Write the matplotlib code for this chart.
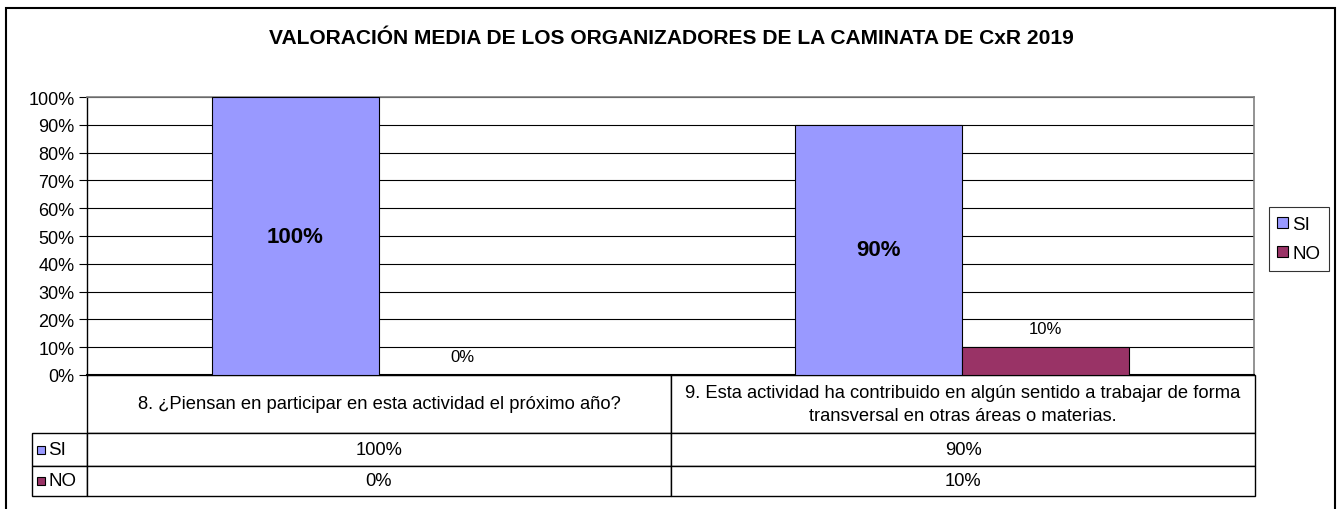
import numpy as np
import matplotlib
matplotlib.use("Agg")
import matplotlib.pyplot as plt
from matplotlib.patches import Rectangle

plt.rcParams['font.family'] = ['Liberation Sans', 'DejaVu Sans']

title = "VALORACIÓN MEDIA DE LOS ORGANIZADORES DE LA CAMINATA DE CxR 2019"
categories = [
    "8. ¿Piensan en participar en esta actividad el próximo año?",
    "9. Esta actividad ha contribuido en algún sentido a trabajar de forma\ntransversal en otras áreas o materias.",
]
series = ["SI", "NO"]
si_values = [100, 90]
no_values = [0, 10]
colors = {"SI": "#9999FF", "NO": "#993366"}

W, H = 1338, 510
fig = plt.figure(figsize=(W / 100, H / 100), dpi=100)

# outer chart frame (bottom edge falls outside the image)
fig.add_artist(Rectangle((6 / W, -0.05), (1335 - 6) / W, 1.05 - 9 / H,
                         transform=fig.transFigure, fill=False,
                         edgecolor="black", linewidth=1.5))

# plot area in pixels: x 87..1254, y 98..376
ax = fig.add_axes([87 / W, 1 - 376 / H, (1254 - 87) / W, (376 - 98) / H])

x = np.arange(len(categories))
bw = 0.286
bars_si = ax.bar(x - bw / 2, si_values, bw, color=colors["SI"], edgecolor="black",
                 linewidth=0.8, label="SI", zorder=3)
bars_no = ax.bar(x + bw / 2, no_values, bw, color=colors["NO"], edgecolor="black",
                 linewidth=0.8, label="NO", zorder=3)

for b, v in zip(bars_si, si_values):
    ax.text(b.get_x() + b.get_width() / 2, v / 2, f"{v}%", ha="center", va="center",
            fontsize=16, fontweight="bold", zorder=4)
for b, v in zip(bars_no, no_values):
    ax.text(b.get_x() + b.get_width() / 2, v + 4, f"{v}%", ha="center", va="bottom",
            fontsize=12, zorder=4)

ax.set_xlim(-0.5, len(categories) - 0.5)
ax.set_ylim(0, 100)
ax.set_yticks(np.arange(0, 101, 10))
ax.set_yticklabels([f"{t}%" for t in range(0, 101, 10)], fontsize=13)
ax.set_xticks([])
ax.tick_params(axis="y", length=6, width=0.8, pad=3)
ax.yaxis.grid(True, color="black", linewidth=0.8, zorder=0)
ax.set_axisbelow(True)
for s in ["top", "right"]:
    ax.spines[s].set_color("#808080")
    ax.spines[s].set_linewidth(1.2)
ax.spines["left"].set_linewidth(1.0)
ax.spines["bottom"].set_linewidth(1.5)

# data table below the plot area
col_w = [55, 584, 584]
cell_text = [[s] + [f"{v}%" for v in vals]
             for s, vals in zip(series, [si_values, no_values])]
total_w = sum(col_w)
tbl = ax.table(cellText=[[""] + categories] + cell_text,
               colWidths=[c / total_w for c in col_w],
               cellLoc="center",
               bbox=[-55 / 1167, -(497 - 376) / 278, total_w / 1167, (497 - 376) / 278])
tbl.auto_set_font_size(False)
row_h = [58, 33, 30]
for (r, c), cell in tbl.get_celld().items():
    cell.set_height(row_h[r] / 121)
    cell.set_linewidth(1.0)
    cell.get_text().set_fontsize(13.2)
    cell.get_text().set_linespacing(1.45)
    if r == 0 and c == 0:
        cell.visible_edges = ""
    if c == 0 and r > 0:
        cell.get_text().set_ha("left")
        cell.PAD = 0.3
        cell.get_text().set_fontsize(13.5)

# legend keys inside the table's label column
for i, s in enumerate(series):
    y_top = -(58 + sum(row_h[1:1 + i])) / 278
    y_c = y_top - row_h[1 + i] / 2 / 278
    ax.add_patch(Rectangle((-50 / 1167, y_c - 4 / 278), 8 / 1167, 8 / 278,
                           facecolor=colors[s], edgecolor="black", linewidth=0.8,
                           transform=ax.transAxes, clip_on=False, zorder=5))

leg = ax.legend(loc="center left", bbox_to_anchor=(1.0129, 0.489), fontsize=13.5,
                frameon=True, fancybox=False, edgecolor="black",
                handlelength=0.55, handleheight=0.55, handletextpad=0.25,
                borderpad=0.45, labelspacing=0.66, borderaxespad=0)
leg.get_frame().set_linewidth(0.8)
for h in leg.legend_handles:
    h.set_edgecolor("black")

fig.text(671 / W, 1 - 39 / H, title, ha="center", va="center",
         fontsize=15.1, fontweight="bold")

fig.savefig("out.png", dpi=100)
